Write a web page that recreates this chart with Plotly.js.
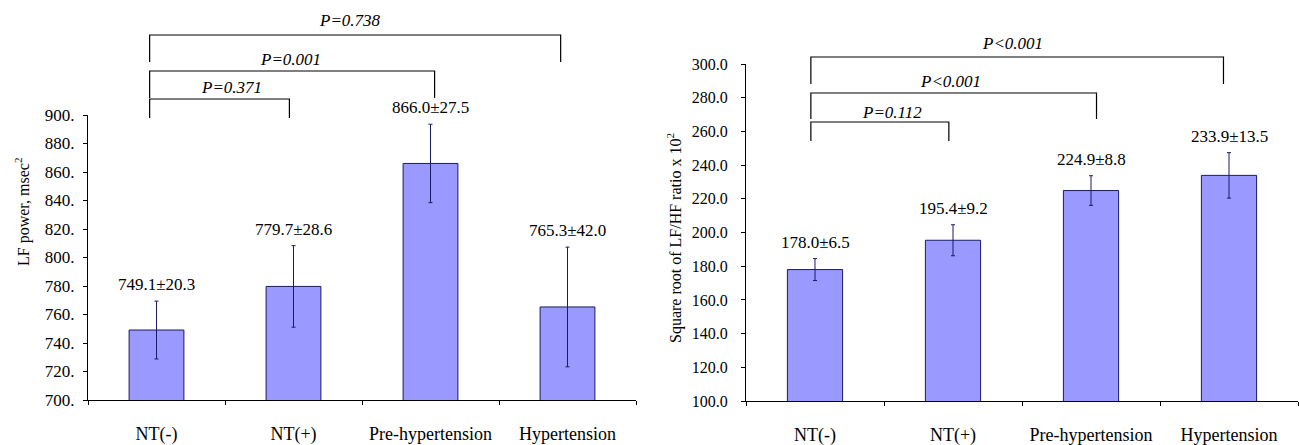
<!DOCTYPE html>
<html>
<head>
<meta charset="utf-8">
<script src="https://cdn.plot.ly/plotly-3.0.1.min.js"></script>
<style>html,body{margin:0;padding:0;background:#fff;}#chart{width:1299px;height:445px;}</style>
</head>
<body>
<div id="chart"></div>
<script>
// ---- data ----
const categories = ["NT(-)", "NT(+)", "Pre-hypertension", "Hypertension"];
const lfValues = [749.1, 779.7, 866.0, 765.3];
const lfErrors = [20.3, 28.6, 27.5, 42.0];
const ratioValues = [178.0, 195.4, 224.9, 233.9];
const ratioErrors = [6.5, 9.2, 8.8, 13.5];
const lfTickVals = [700, 720, 740, 760, 780, 800, 820, 840, 860, 880, 900];
const lfTickText = ["700.", "720.", "740.", "760.", "780.", "800.", "820.", "840.", "860.", "880.", "900."];
const ratioTickVals = [100, 120, 140, 160, 180, 200, 220, 240, 260, 280, 300];
const lfComparisons = [[0, 1, "P=0.371"], [0, 2, "P=0.001"], [0, 3, "P=0.738"]];
const ratioComparisons = [[0, 1, "P=0.112"], [0, 2, "P<0.001"], [0, 3, "P<0.001"]];

const FONT = "Liberation Serif, Times New Roman, serif";
const BAR_FILL = "#9999ff";
const BAR_LINE = "#1a1a66";
const W = 1299, H = 445;
const py = px => 1 - px / H; // pixel row -> paper
const pxX = px => px / W;

function barTrace(vals, errs, xa, ya) {
  return {
    type: "bar", x: categories, y: vals, xaxis: xa, yaxis: ya,
    marker: {color: BAR_FILL, line: {color: BAR_LINE, width: 1}},
    error_y: {type: "data", array: errs, visible: true, color: BAR_LINE, thickness: 1, width: 2},
    hoverinfo: "skip", showlegend: false
  };
}

const traces = [
  barTrace(lfValues, lfErrors, "x", "y"),
  barTrace(ratioValues, ratioErrors, "x2", "y2")
];

const annotations = [];
const shapes = [];

// value labels above error bars
function valueLabels(vals, errs, xr, yr, yshift) {
  vals.forEach((v, i) => {
    annotations.push({
      x: categories[i], y: v + errs[i], xref: xr, yref: yr,
      text: v.toFixed(1) + "±" + errs[i].toFixed(1),
      showarrow: false, yanchor: "bottom", yshift: yshift,
      font: {family: FONT, size: 17, color: "#000"}
    });
  });
}
valueLabels(lfValues, lfErrors, "x", "y", 5);
valueLabels(ratioValues, ratioErrors, "x2", "y2", 5);

// brackets: rows = [bracket row px, leg bottom px, text row px, text centre px]
function brackets(comps, xr, rows, offs) {
  comps.forEach((c, k) => {
    const r = rows[k];
    const x0 = c[0] + offs[0], x1 = c[1] + offs[c[1]];
    shapes.push({type: "path", xref: xr, yref: "paper",
      path: `M ${x0},${py(r[1])} L ${x0},${py(r[0])} L ${x1},${py(r[0])} L ${x1},${py(r[1])}`,
      line: {color: "#000", width: 1.2}});
    annotations.push({x: pxX(r[3]), y: py(r[2]), xref: "paper", yref: "paper",
      text: "<i>" + c[2] + "</i>", showarrow: false, yanchor: "middle", xanchor: "center",
      font: {family: FONT, size: 17, color: "#000"}});
  });
}
brackets(lfComparisons, "x", [[99, 118, 88, 231], [71, 98, 59, 290], [35, 62, 21, 350]], [-0.05, -0.03, 0.03, -0.05]);
brackets(ratioComparisons, "x2", [[122, 141, 112, 892], [93, 119, 82, 950], [57, 84, 43, 1012]], [-0.03, -0.03, 0.04, -0.04]);

// y axis titles
annotations.push({x: pxX(22), xref: "paper", y: py(212), yref: "paper", text: "LF power, msec<sup>2</sup>",
  textangle: -90, showarrow: false, font: {family: FONT, size: 16, color: "#000"}, xanchor: "center"});
annotations.push({x: pxX(674), xref: "paper", y: py(238), yref: "paper", text: "Square root of LF/HF ratio x 10<sup>2</sup>",
  textangle: -90, showarrow: false, font: {family: FONT, size: 16, color: "#000"}, xanchor: "center"});

const axisCommon = {
  showline: true, linecolor: "#000", linewidth: 1, showgrid: false, zeroline: false,
  ticks: "outside", ticklen: 4, tickcolor: "#000", tickwidth: 1,
  tickfont: {family: FONT, size: 16, color: "#000"}, fixedrange: true
};
const catFont = {family: FONT, size: 18, color: "#000"};

const layout = {
  width: W, height: H,
  margin: {l: 0, r: 0, t: 0, b: 0},
  paper_bgcolor: "#fff", plot_bgcolor: "#fff",
  bargap: 0.6,
  xaxis: Object.assign({}, axisCommon, {domain: [pxX(88), pxX(636)], anchor: "y", tickson: "boundaries",
    ticklabelstandoff: 17, tickfont: catFont}),
  yaxis: Object.assign({}, axisCommon, {domain: [py(400), py(115)], range: [700, 900], anchor: "x",
    tickvals: lfTickVals, ticktext: lfTickText, ticklabelstandoff: 5, tickfont: {family: FONT, size: 17, color: "#000"}}),
  xaxis2: Object.assign({}, axisCommon, {domain: [pxX(746), pxX(1298)], anchor: "y2", tickson: "boundaries",
    ticklabelstandoff: 17, tickfont: catFont}),
  yaxis2: Object.assign({}, axisCommon, {domain: [py(401), py(64)], range: [100, 300], anchor: "x2",
    tickvals: ratioTickVals, tickformat: ".1f", ticklabelstandoff: 10}),
  shapes: shapes,
  annotations: annotations
};

Plotly.newPlot("chart", traces, layout, {displayModeBar: false, staticPlot: true});
</script>
</body>
</html>
